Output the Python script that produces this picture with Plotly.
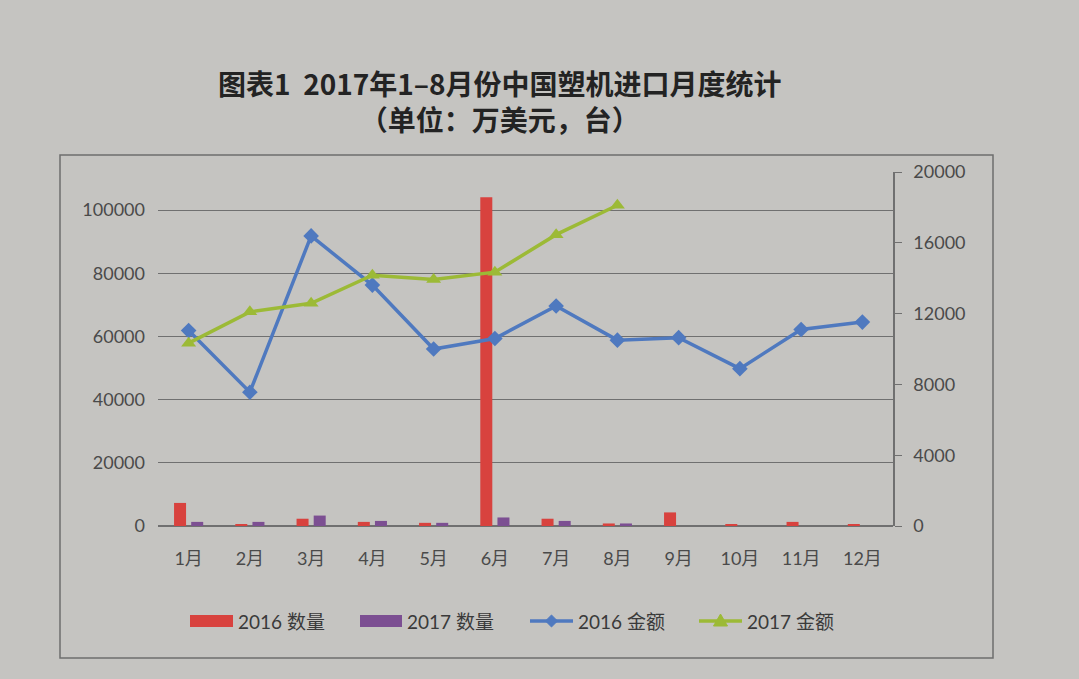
import plotly.graph_objects as go

months = ["1月", "2月", "3月", "4月", "5月", "6月", "7月", "8月", "9月", "10月", "11月", "12月"]
qty_2016 = [7300, 500, 2300, 1300, 1000, 104000, 2300, 800, 4300, 600, 1300, 600]
qty_2017 = [1300, 1300, 3300, 1600, 1000, 2700, 1600, 800]
amt_2016 = [11040, 7560, 16390, 13610, 10000, 10590, 12430, 10500, 10640, 8890, 11100, 11520]
amt_2017 = [10330, 12100, 12580, 14170, 13930, 14340, 16460, 18120]
left_ticks = [0, 20000, 40000, 60000, 80000, 100000]
right_ticks = [0, 4000, 8000, 12000, 16000, 20000]
legend_names = ["2016 数量", "2017 数量", "2016 金额", "2017 金额"]
title_lines = ["图表1  2017年1–8月份中国塑机进口月度统计", "（单位：万美元，台）"]

W, H = 1079, 679
PL, PR, PT, PB = 158, 893, 172, 526

BG = "#c5c4c1"
RED = "#d8423e"
PURPLE = "#7c4f92"
BLUE = "#4f79bf"
GREEN = "#9cba36"
TXT = "#4a4a4a"
FONT = "Lato, 'Noto Sans CJK SC', sans-serif"

fig = go.Figure()
fig.add_trace(go.Bar(x=months, y=qty_2016, name=legend_names[0], marker_color=RED,
                     marker_line_width=0))
fig.add_trace(go.Bar(x=months[:len(qty_2017)], y=qty_2017, name=legend_names[1],
                     marker_color=PURPLE, marker_line_width=0))
fig.add_trace(go.Scatter(x=months, y=amt_2016, name=legend_names[2], yaxis="y2",
                         mode="lines+markers",
                         line=dict(color=BLUE, width=3.5),
                         marker=dict(symbol="diamond", size=12, color=BLUE)))
fig.add_trace(go.Scatter(x=months[:len(amt_2017)], y=amt_2017, name=legend_names[3], yaxis="y2",
                         mode="lines+markers",
                         line=dict(color=GREEN, width=3.5),
                         marker=dict(symbol="triangle-up", size=13, color=GREEN)))


def px_x(p):
    return (p - PL) / (PR - PL)


def px_y(p):
    return (PB - p) / (PB - PT)


left_max = 100000 * (PB - PT) / 316.0

shapes = [dict(type="rect", xref="paper", yref="paper",
               x0=px_x(60), x1=px_x(993), y0=px_y(658), y1=px_y(155),
               line=dict(color="#6e6e6e", width=1.5), layer="below")]
annotations = [
    dict(text="<b>" + title_lines[0] + "</b><br><b>" + title_lines[1] + "</b>",
         xref="paper", yref="paper", align="center",
         x=px_x(500), y=px_y(101), xanchor="center", yanchor="middle", showarrow=False,
         font=dict(size=28, color="#232323", family="'Noto Sans CJK SC', sans-serif")),
]

# custom legend (wide swatches as in the reference)
LY = 621
sw = [(190, 233), (360, 402), (530, 573), (699, 742)]
cols = [RED, PURPLE, BLUE, GREEN]
for i, (a, b) in enumerate(sw):
    if i < 2:
        shapes.append(dict(type="rect", xref="paper", yref="paper",
                           x0=px_x(a), x1=px_x(b), y0=px_y(LY + 6), y1=px_y(LY - 6),
                           fillcolor=cols[i], line=dict(width=0)))
    else:
        shapes.append(dict(type="line", xref="paper", yref="paper",
                           x0=px_x(a), x1=px_x(b), y0=px_y(LY), y1=px_y(LY),
                           line=dict(color=cols[i], width=3.5)))
        cx = (a + b) / 2
        if i == 2:
            pts = [(cx, LY - 6), (cx + 6, LY), (cx, LY + 6), (cx - 6, LY)]
        else:
            pts = [(cx, LY - 7), (cx + 7, LY + 5), (cx - 7, LY + 5)]
        path = "M " + " L ".join(f"{px_x(x):.5f},{px_y(y):.5f}" for x, y in pts) + " Z"
        shapes.append(dict(type="path", xref="paper", yref="paper", path=path,
                           fillcolor=cols[i], line=dict(color=cols[i], width=1)))
    annotations.append(dict(text=legend_names[i], xref="paper", yref="paper",
                            x=px_x(b + 3), y=px_y(LY), xanchor="left", yanchor="middle",
                            showarrow=False, font=dict(size=19, color="#3a3a3a", family=FONT)))

fig.update_layout(
    width=W, height=H,
    margin=dict(l=PL, r=W - PR, t=PT, b=H - PB),
    paper_bgcolor=BG, plot_bgcolor=BG,
    font=dict(family=FONT, size=15, color=TXT),
    barmode="group", bargap=0.44, bargroupgap=0.3,
    showlegend=False,
    xaxis=dict(range=[-0.5, 11.5], showgrid=False, showline=False, ticks="", zeroline=False,
               tickfont=dict(size=18, color=TXT), ticklabelstandoff=20),
    yaxis=dict(range=[0, left_max], tickvals=left_ticks, showgrid=True,
               gridcolor="#707070", gridwidth=1, zeroline=True, zerolinecolor="#707070",
               zerolinewidth=1.5, showline=False, ticks="", tickformat="d",
               tickfont=dict(size=18, color=TXT), ticklabelstandoff=12),
    yaxis2=dict(range=[0, 20000], tickvals=right_ticks, overlaying="y", side="right",
                showgrid=False, zeroline=False, showline=True, linecolor="#707070",
                linewidth=1.5, ticks="outside", ticklen=7, tickcolor="#707070",
                tickformat="d", tickfont=dict(size=18, color=TXT), ticklabelstandoff=8),
    shapes=shapes,
    annotations=annotations,
)

fig.write_html("out.html")
